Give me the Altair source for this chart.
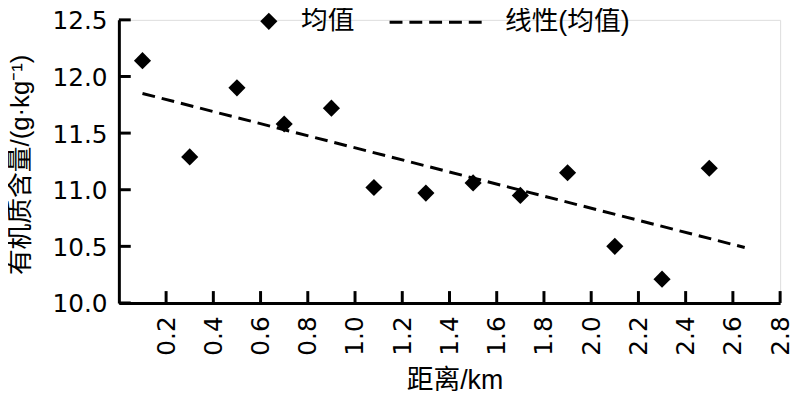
import altair as alt
import pandas as pd

# ---- data ----
distance_km = [0.1, 0.3, 0.5, 0.7, 0.9, 1.08, 1.3, 1.5, 1.7, 1.9, 2.1, 2.3, 2.5]
om_mean = [12.14, 11.29, 11.90, 11.58, 11.72, 11.02, 10.97, 11.06, 10.95, 11.15, 10.50, 10.21, 11.19]
trend_x = [0.1, 2.65]
trend_y = [11.85, 10.49]
x_ticks = [0.2, 0.4, 0.6, 0.8, 1.0, 1.2, 1.4, 1.6, 1.8, 2.0, 2.2, 2.4, 2.6, 2.8]
y_ticks = [10.0, 10.5, 11.0, 11.5, 12.0, 12.5]
series_pt = "均值"
series_line = "线性(均值)"
x_title = "距离/km"
y_title = "有机质含量/(g·kg⁻¹)"

W, H = 668, 286
NUM_FONT = "DejaVu Sans"
TITLE_FONT = "Liberation Sans, 'Noto Sans CJK SC'"
CJK_FONT = "Liberation Sans, 'Noto Sans CJK SC'"

pts = pd.DataFrame({"distance": distance_km, "om": om_mean, "s_pt": series_pt})
trend = pd.DataFrame({"distance": trend_x, "om": trend_y, "s_line": series_line})
xt = pd.DataFrame({"distance": x_ticks})
yt = pd.DataFrame({"om": y_ticks})

xscale = alt.Scale(domain=[0, 2.8], nice=False, zero=False)
yscale = alt.Scale(domain=[10, 12.5], nice=False, zero=False)

x_axis = alt.Axis(
    values=x_ticks, format=".1f", labelAngle=270, labelFont=NUM_FONT, labelFontSize=25,
    labelColor="black", labelPadding=13, labelFlush=False, labelOverlap=False,
    ticks=False, grid=False, domainColor="black", domainWidth=3,
    title=x_title, titleFont=TITLE_FONT, titleFontSize=27, titleFontWeight="normal",
    titleColor="black", titleX=339, titleY=78, titleBaseline="middle", titleAlign="center",
)
y_axis = alt.Axis(
    values=y_ticks, format=".1f", labelFont=NUM_FONT, labelFontSize=25,
    labelColor="black", labelPadding=12, labelFlush=False, labelOverlap=False, labelOffset=1,
    ticks=False, grid=False, domainColor="black", domainWidth=3,
    title=y_title, titleFont=TITLE_FONT, titleFontSize=26, titleFontWeight="normal",
    titleColor="black", titleX=-99, titleY=146, titleAngle=270,
    titleBaseline="middle", titleAlign="center",
)

X = alt.X("distance:Q", scale=xscale, axis=x_axis)
Y = alt.Y("om:Q", scale=yscale, axis=y_axis)

xtick_layer = alt.Chart(xt).mark_rule(color="black", strokeWidth=3).encode(
    x=X, y=alt.value(H), y2=alt.value(H - 12)
)
ytick_layer = alt.Chart(yt).mark_rule(color="black", strokeWidth=3).encode(
    y=Y, x=alt.value(0), x2=alt.value(12)
)

line_layer = alt.Chart(trend).mark_line(color="black", strokeWidth=3).encode(
    x=X, y=Y,
    strokeDash=alt.StrokeDash(
        "s_line:N",
        scale=alt.Scale(domain=[series_line], range=[[13, 7]]),
        legend=alt.Legend(
            title=None, orient="none", legendX=272, legendY=-48, padding=0,
            symbolType="stroke", symbolSize=9604, symbolStrokeWidth=3,
            symbolStrokeColor="black", labelFont=CJK_FONT, labelFontSize=27,
            labelColor="black", labelOffset=17,
        ),
    ),
)

pt_layer = alt.Chart(pts).mark_point(filled=True, size=300, color="black", opacity=1).encode(
    x=X, y=Y,
    shape=alt.Shape(
        "s_pt:N",
        scale=alt.Scale(domain=[series_pt], range=["diamond"]),
        legend=alt.Legend(
            title=None, orient="none", legendX=138, legendY=-12, padding=0,
            symbolSize=300, symbolFillColor="black", symbolStrokeWidth=0, symbolOpacity=1,
            labelFont=CJK_FONT, labelFontSize=27, labelColor="black", labelOffset=19,
        ),
    ),
)

chart = alt.layer(xtick_layer, ytick_layer, line_layer, pt_layer).properties(
    width=W, height=H,
    autosize=alt.AutoSizeParams(type="none"),
    padding={"left": 112, "top": 10, "right": 12, "bottom": 92},
).configure_view(stroke=None).configure(background="white")

chart.save("out.html", embed_options={"renderer": "svg", "actions": False})
